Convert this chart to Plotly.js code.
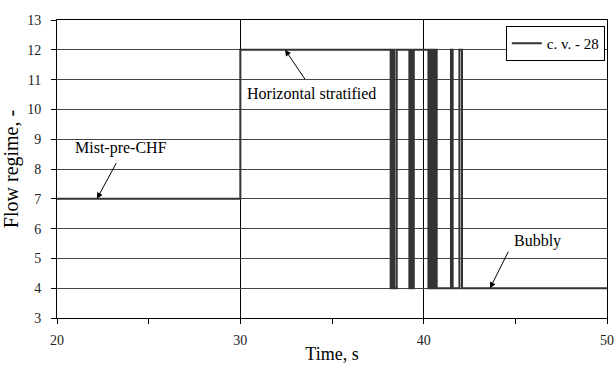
<!DOCTYPE html>
<html>
<head>
<meta charset="utf-8">
<script src="https://cdn.plot.ly/plotly-3.0.1.min.js"></script>
<style>html,body{margin:0;padding:0;background:#fff;}#chart{width:614px;height:365px;}</style>
</head>
<body>
<div id="chart"></div>
<script>
// Step changes of flow regime for control volume 28 (time in s, regime number)
const timeS = [20, 30, 30, 38.20, 38.20, 38.29, 38.29, 38.40, 38.40, 38.53, 38.53,
  39.22, 39.22, 39.31, 39.31, 39.38, 39.38, 39.46, 39.46,
  40.26, 40.26, 40.30, 40.30, 40.34, 40.34, 40.38, 40.38, 40.42, 40.42, 40.46, 40.46,
  40.50, 40.50, 40.55, 40.55, 40.60, 40.60, 40.64, 40.64, 40.71, 40.71,
  41.49, 41.49, 41.58, 41.58, 41.95, 41.95, 42.09, 42.09, 50];
const regime = [7, 7, 12, 12, 4, 4, 12, 12, 4, 4, 12,
  12, 4, 4, 12, 12, 4, 4, 12,
  12, 4, 4, 12, 12, 4, 4, 12, 12, 4, 4, 12,
  12, 4, 4, 12, 12, 4, 4, 12, 12, 4,
  4, 12, 12, 4, 4, 12, 12, 4, 4];
const seriesName = 'c. v. - 28';
const xTickVals = [20, 30, 40, 50];
const yTickVals = [3, 4, 5, 6, 7, 8, 9, 10, 11, 12, 13];
const labels = [
  {text: 'Mist-pre-CHF', tx: 23.49, ty: 8.70, px: 22.18, py: 7, ax: 20, ay: -37},
  {text: 'Horizontal stratified', tx: 33.86, ty: 10.55, px: 32.44, py: 12, ax: 21, ay: 31},
  {text: 'Bubbly', tx: 46.19, ty: 5.58, px: 43.62, py: 4, ax: 19, ay: -38}
];

const font = 'Liberation Serif';
const annotations = [];
labels.forEach(l => {
  annotations.push({x: l.tx, y: l.ty, xref: 'x', yref: 'y', text: l.text, showarrow: false,
    font: {family: font, size: 16, color: '#000'}});
  annotations.push({x: l.px, y: l.py, xref: 'x', yref: 'y', text: '', showarrow: true,
    ax: l.ax, ay: l.ay, arrowhead: 2, arrowsize: 1.2, arrowwidth: 1, arrowcolor: '#000', standoff: 0});
});

const trace = {x: timeS, y: regime, type: 'scatter', mode: 'lines', name: seriesName,
  line: {color: '#333', width: 2}};

const layout = {
  width: 614, height: 365,
  margin: {l: 57, r: 7, t: 20, b: 47},
  paper_bgcolor: '#fff', plot_bgcolor: '#fff',
  font: {family: font, size: 14, color: '#000'},
  showlegend: true,
  legend: {x: 0.996, y: 0.98, xanchor: 'right', yanchor: 'top', bgcolor: '#fff',
    bordercolor: '#000', borderwidth: 1, font: {family: font, size: 15},
    tracegroupgap: 0, itemwidth: 30},
  xaxis: {range: [20, 50], tickvals: xTickVals, ticks: 'outside', ticklen: 5, tickcolor: '#000',
    showline: true, linecolor: '#000', linewidth: 1, mirror: true,
    showgrid: true, gridcolor: '#000', gridwidth: 1, zeroline: false,
    ticklabelstandoff: 4,
    minor: {dtick: 5, tick0: 20, ticks: 'outside', ticklen: 5, tickcolor: '#000', showgrid: false},
    title: {text: 'Time, s', font: {family: font, size: 18}, standoff: 0},
    tickfont: {family: font, size: 14, color: '#222'}},
  yaxis: {range: [3, 13], tickvals: yTickVals, ticks: 'outside', ticklen: 5, tickcolor: '#000',
    showline: true, linecolor: '#000', linewidth: 1, mirror: true,
    showgrid: true, gridcolor: '#444', gridwidth: 1, zeroline: false,
    ticklabelstandoff: 7,
    title: {text: 'Flow regime, -', font: {family: font, size: 20}, standoff: 4},
    tickfont: {family: font, size: 14, color: '#222'}},
  annotations: annotations
};

Plotly.newPlot('chart', [trace], layout, {displayModeBar: false, staticPlot: true});
</script>
</body>
</html>
